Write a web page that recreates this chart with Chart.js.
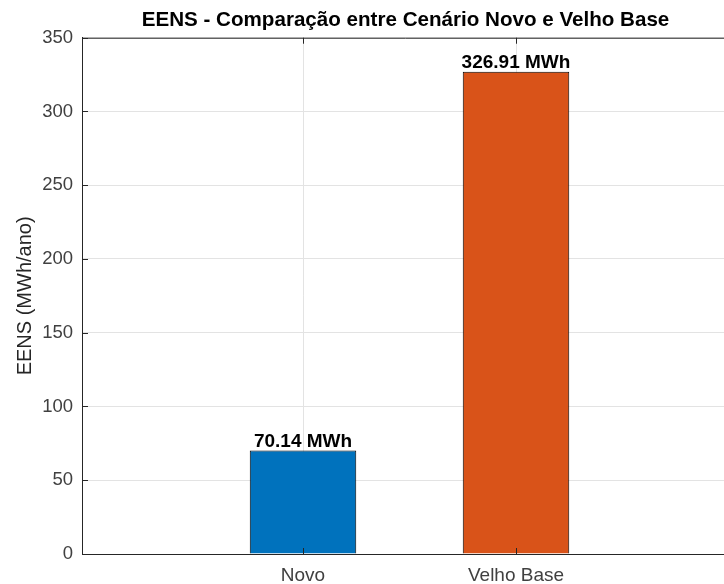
<!DOCTYPE html>
<html>
<head>
<meta charset="utf-8">
<script src="https://cdn.jsdelivr.net/npm/chart.js@4"></script>
<style>
  body { margin: 0; overflow: hidden; background: #fff; }
  canvas { display: block; }
</style>
</head>
<body>
<canvas id="eens" width="730" height="584"></canvas>
<script>
const categorias = ['Novo', 'Velho Base'];
const valoresEens = [70.14, 326.91];
const coresBarras = ['#0072BD', '#D95319'];
const yMax = 350;
const yPasso = 50;

const fonte = "'Liberation Sans', Arial, sans-serif";
const corEixo = '#262626';

// rotulos em cima das barras
const rotulosBarras = {
    id: 'rotulosBarras',
    afterDatasetsDraw(chart) {
        const ctx = chart.ctx;
        const meta = chart.getDatasetMeta(0);
        ctx.save();
        ctx.font = 'bold 19px ' + fonte;
        ctx.fillStyle = '#000';
        ctx.textAlign = 'center';
        ctx.textBaseline = 'alphabetic';
        meta.data.forEach((bar, i) => {
            ctx.fillText(valoresEens[i].toFixed(2) + ' MWh', bar.x, bar.y - 4);
        });
        ctx.restore();
    }
};

// caixa e ticks para dentro (estilo matlab)
const caixaEixos = {
    id: 'caixaEixos',
    afterDraw(chart) {
        const ctx = chart.ctx;
        const a = chart.chartArea;
        const sx = chart.scales.x;
        const sy = chart.scales.y;
        ctx.save();
        ctx.strokeStyle = corEixo;
        ctx.lineWidth = 1;
        ctx.beginPath();
        ctx.moveTo(a.left, a.top + 0.5);
        ctx.lineTo(a.right, a.top + 0.5);
        ctx.lineTo(a.right - 0.5, a.bottom);
        sx.ticks.forEach(t => {
            const px = Math.round(sx.getPixelForValue(t.value)) + 0.5;
            ctx.moveTo(px, a.bottom);
            ctx.lineTo(px, a.bottom - 6);
            ctx.moveTo(px, a.top);
            ctx.lineTo(px, a.top + 6);
        });
        sy.ticks.forEach(t => {
            const py = Math.round(sy.getPixelForValue(t.value)) + 0.5;
            ctx.moveTo(a.left, py);
            ctx.lineTo(a.left + 6, py);
        });
        ctx.stroke();
        ctx.restore();
    }
};

const ctx = document.getElementById('eens').getContext('2d');
const grafico = new Chart(ctx, {
    type: 'bar',
    data: {
        datasets: [{
            data: valoresEens.map((v, i) => ({ x: i + 1, y: v })),
            backgroundColor: coresBarras,
            borderColor: '#000',
            borderWidth: 1,
            barPercentage: 0.5,
            categoryPercentage: 1
        }]
    },
    plugins: [rotulosBarras, caixaEixos],
    options: {
        responsive: false,
        devicePixelRatio: 1,
        animation: false,
        layout: { padding: { left: 0, right: 1, top: 0, bottom: 0 } },
        plugins: {
            legend: { display: false },
            tooltip: { enabled: false },
            title: {
                display: true,
                fullSize: false,
                text: 'EENS - Comparação entre Cenário Novo e Velho Base',
                color: '#000',
                font: { family: fonte, size: 20.6, weight: 'bold' },
                padding: { top: 8, bottom: 5 }
            }
        },
        scales: {
            x: {
                type: 'linear',
                min: -0.0376,
                max: 3,
                offset: false,
                afterBuildTicks(scale) {
                    scale.ticks = categorias.map((c, i) => ({ value: i + 1 }));
                },
                afterFit(scale) { scale.height = 30; },
                ticks: {
                    callback: (v) => categorias[v - 1] || '',
                    color: '#404040',
                    font: { family: fonte, size: 19 },
                    padding: 10,
                    maxRotation: 0,
                    autoSkip: false
                },
                grid: { color: '#e3e3e3', drawTicks: false, offset: false },
                border: { color: corEixo }
            },
            y: {
                min: 0,
                max: yMax,
                afterFit(scale) { scale.width = 82; },
                ticks: {
                    stepSize: yPasso,
                    color: '#404040',
                    font: { family: fonte, size: 18.5 },
                    padding: 9
                },
                grid: { color: '#e3e3e3', drawTicks: false },
                border: { color: corEixo },
                title: {
                    display: true,
                    text: 'EENS (MWh/ano)',
                    color: corEixo,
                    font: { family: fonte, size: 20 },
                    padding: { top: 13, bottom: 0 }
                }
            }
        }
    }
});
</script>
</body>
</html>
